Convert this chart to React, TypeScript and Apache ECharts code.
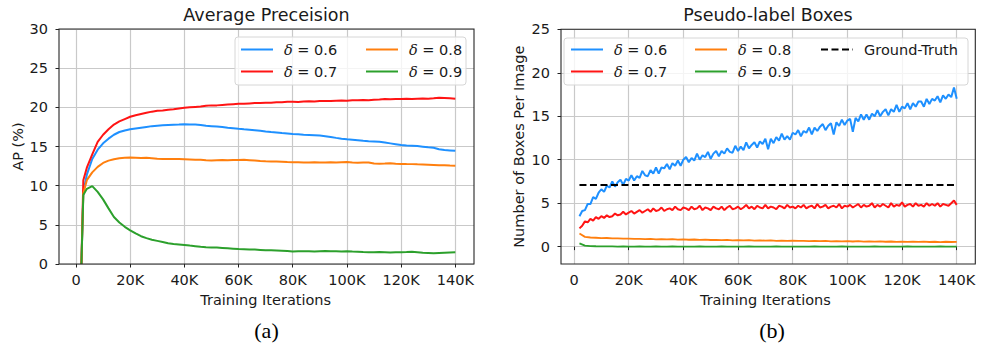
import React, { useEffect, useRef } from 'react';
import * as echarts from 'echarts';

// ---------- Left panel: Average Precision (AP %) ----------
const apItersK = [2, 2.7, 4, 6, 8, 10, 12, 14, 16, 18, 20, 22, 24, 26, 28, 30, 32, 34, 36, 38, 40, 42, 44, 46, 48, 50, 52, 54, 56, 58, 60, 62, 64, 66, 68, 70, 72, 74, 76, 78, 80, 82, 84, 86, 88, 90, 92, 94, 96, 98, 100, 102, 104, 106, 108, 110, 112, 114, 116, 118, 120, 122, 124, 126, 128, 130, 132, 134, 136, 138, 140];

const apD06 = [0, 9.2,
  11.4, 13.4, 14.6, 15.4, 16.0, 16.5, 16.85, 17.05, 17.2,
  17.3, 17.4, 17.5, 17.6, 17.65, 17.7, 17.75, 17.78, 17.8, 17.85,
  17.82, 17.8, 17.75, 17.65, 17.6, 17.55, 17.48, 17.4, 17.33, 17.26,
  17.2, 17.15, 17.08, 17.0, 16.92, 16.85, 16.8, 16.72, 16.66, 16.6,
  16.55, 16.5, 16.48, 16.45, 16.4, 16.32, 16.22, 16.1, 16.0, 15.92,
  15.86, 15.8, 15.72, 15.68, 15.65, 15.6, 15.5, 15.4, 15.3, 15.2,
  15.12, 15.1, 15.05, 14.98, 14.9, 14.85, 14.65, 14.55, 14.5, 14.45];

const apD07 = [0, 10.7,
  12.3, 14.0, 15.6, 16.5, 17.2, 17.8, 18.2, 18.5, 18.8,
  19.0, 19.15, 19.3, 19.45, 19.55, 19.6, 19.7, 19.75, 19.85, 19.95,
  20.0, 20.05, 20.1, 20.2, 20.25, 20.25, 20.3, 20.35, 20.4, 20.45,
  20.45, 20.5, 20.55, 20.55, 20.6, 20.6, 20.65, 20.65, 20.7, 20.72,
  20.68, 20.75, 20.78, 20.75, 20.8, 20.82, 20.8, 20.85, 20.88, 20.84,
  20.9, 20.92, 20.95, 20.9, 20.97, 21.0, 21.05, 21.02, 21.05, 21.05,
  21.08, 21.06, 21.1, 21.12, 21.1, 21.15, 21.22, 21.2, 21.15, 21.1];

const apD08 = [0, 9.0,
  10.7, 11.7, 12.4, 12.9, 13.2, 13.38, 13.5, 13.55, 13.58,
  13.55, 13.52, 13.55, 13.5, 13.45, 13.42, 13.42, 13.4, 13.4, 13.38,
  13.35, 13.32, 13.3, 13.25, 13.22, 13.25, 13.27, 13.25, 13.28, 13.28,
  13.3, 13.25, 13.2, 13.15, 13.12, 13.1, 13.08, 13.05, 13.02, 13.0,
  12.98, 12.95, 12.97, 12.98, 12.95, 12.97, 12.98, 12.95, 13.0, 13.02,
  12.95, 12.92, 12.95, 12.97, 12.82, 12.8, 12.82, 12.85, 12.8, 12.78,
  12.76, 12.75, 12.72, 12.7, 12.68, 12.65, 12.62, 12.6, 12.56, 12.53];

const apD09 = [0, 8.8,
  9.6, 9.95, 9.2, 8.25, 7.1, 6.0, 5.3, 4.75, 4.3,
  3.9, 3.55, 3.3, 3.1, 2.95, 2.8, 2.65, 2.55, 2.5, 2.43,
  2.35, 2.28, 2.2, 2.15, 2.12, 2.1, 2.05, 2.0, 1.95, 1.9,
  1.88, 1.86, 1.84, 1.8, 1.75, 1.74, 1.72, 1.7, 1.65, 1.6,
  1.62, 1.64, 1.62, 1.6, 1.63, 1.65, 1.63, 1.62, 1.6, 1.62,
  1.58, 1.55, 1.52, 1.5, 1.5, 1.52, 1.5, 1.48, 1.5, 1.5,
  1.52, 1.55, 1.5, 1.45, 1.42, 1.38, 1.42, 1.45, 1.48, 1.5];

// ---------- Right panel: Pseudo-label boxes per image ----------
// blue / red sampled every 1K iterations from 2K to 140K
const boxD06 = [
  3.5, 4.1, 4.2, 4.9, 4.9, 5.7, 5.5, 6.2, 6.6, 6.3,
  7.0, 6.8, 7.5, 6.9, 7.4, 7.7, 7.1, 7.8, 7.6, 8.2,
  7.6, 8.1, 7.9, 8.7, 8.2, 8.1, 8.8, 8.4, 9.1, 8.4,
  9.1, 9.0, 9.5, 8.9, 9.6, 9.3, 9.9, 9.3, 10.0, 10.3,
  9.7, 10.2, 9.9, 10.7, 10.0, 10.5, 10.3, 10.9, 10.1, 10.7,
  11.0, 10.4, 11.0, 10.7, 11.3, 10.9, 10.8, 11.6, 11.0, 11.5,
  11.1, 12.0, 11.3, 11.7, 12.0, 11.4, 12.1, 11.8, 12.4, 11.2,
  12.4, 11.9, 12.6, 12.2, 13.0, 12.3, 12.7, 12.3, 13.1, 12.9,
  13.4, 12.7, 13.3, 13.1, 13.7, 12.9, 13.7, 13.3, 13.8, 14.1,
  13.4, 13.9, 14.2, 12.9, 14.3, 13.9, 14.6, 14.0, 14.5, 14.7,
  13.2, 14.8, 14.4, 15.2, 14.6, 15.2, 14.6, 15.3, 15.0, 15.7,
  15.0, 15.5, 15.8, 15.1, 15.8, 15.5, 16.3, 15.5, 16.1, 15.9,
  16.5, 15.8, 16.5, 16.1, 16.7, 16.7, 16.1, 17.0, 16.4, 17.0,
  16.8, 17.3, 16.6, 17.4, 17.0, 17.5, 17.2, 18.3, 17.0];

const boxD07 = [
  2.1, 2.4, 2.9, 2.8, 3.2, 3.0, 3.4, 3.2, 3.5, 3.3,
  3.6, 3.4, 3.5, 3.8, 3.6, 3.7, 4.0, 3.7, 3.9, 4.1,
  3.8, 4.0, 4.2, 3.9, 4.1, 4.3, 4.0, 4.4, 4.1, 4.2,
  4.5, 4.1, 4.3, 4.4, 4.2, 4.6, 4.3, 4.2, 4.5, 4.4,
  4.2, 4.6, 4.3, 4.4, 4.7, 4.2, 4.5, 4.4, 4.2, 4.6,
  4.4, 4.3, 4.6, 4.2, 4.5, 4.7, 4.3, 4.4, 4.6, 4.3,
  4.5, 4.8, 4.4, 4.6, 4.3, 4.7, 4.5, 4.4, 4.8, 4.4,
  4.6, 4.5, 4.3, 4.7, 4.6, 4.4, 4.8, 4.5, 4.6, 4.4,
  4.7, 4.5, 4.8, 4.4, 4.6, 4.7, 4.4, 4.9, 4.5, 4.6,
  4.8, 4.4, 4.6, 4.7, 4.5, 4.9, 4.4, 4.7, 4.6, 4.8,
  4.5, 4.7, 4.9, 4.5, 4.8, 4.6, 4.7, 5.0, 4.5, 4.8,
  4.6, 4.9, 4.7, 4.5, 5.0, 4.6, 4.8, 4.7, 5.1, 4.6,
  4.8, 4.9, 4.6, 5.0, 4.7, 4.8, 4.6, 5.0, 4.7, 4.9,
  4.7, 5.0, 4.6, 4.9, 4.8, 4.7, 5.0, 5.3, 4.8];

// orange / green sampled every 2K iterations from 2K to 140K
const boxD08 = [
  1.50, 1.12, 1.05, 1.02, 0.97, 0.99, 0.94, 0.95, 0.91, 0.93,
  0.88, 0.90, 0.86, 0.89, 0.84, 0.87, 0.83, 0.85, 0.81, 0.83,
  0.79, 0.82, 0.77, 0.80, 0.76, 0.78, 0.74, 0.77, 0.72, 0.75,
  0.71, 0.74, 0.69, 0.72, 0.68, 0.71, 0.67, 0.70, 0.66, 0.68,
  0.65, 0.67, 0.63, 0.66, 0.62, 0.65, 0.61, 0.64, 0.60, 0.63,
  0.59, 0.62, 0.58, 0.61, 0.57, 0.60, 0.56, 0.59, 0.55, 0.58,
  0.55, 0.57, 0.54, 0.57, 0.53, 0.56, 0.52, 0.56, 0.53, 0.55];

const boxD09 = [
  0.38, 0.12, 0.06, 0.04, 0.03, 0.02, 0.02, 0.01, 0.02, 0.01,
  0.01, 0.02, 0.01, 0.01, 0.02, 0.01, 0.01, 0.02, 0.01, 0.01,
  0.01, 0.01, 0.02, 0.01, 0.01, 0.01, 0.02, 0.01, 0.01, 0.01,
  0.01, 0.02, 0.01, 0.01, 0.01, 0.01, 0.02, 0.01, 0.01, 0.01,
  0.01, 0.01, 0.01, 0.02, 0.01, 0.01, 0.01, 0.01, 0.02, 0.01,
  0.01, 0.01, 0.01, 0.01, 0.02, 0.01, 0.01, 0.01, 0.01, 0.01,
  0.02, 0.01, 0.01, 0.01, 0.01, 0.01, 0.02, 0.01, 0.01, 0.01];

const groundTruthIters = [2000, 140000];
const groundTruthValue = [7.1, 7.1];

const seriesNames = ['δ = 0.6', 'δ = 0.7', 'δ = 0.8', 'δ = 0.9'];
const gtName = 'Ground-Truth';
const COLORS = ['#1e90ff', '#ff1414', '#ff7f0e', '#2ca02c'];

const FONT = 'DejaVu Sans';
const TXT = '#1a1a1a';
const GRID_LINE = '#c9c9c9';

const fmtK = (v: number) => (v === 0 ? '0' : `${v / 1000}K`);

const pairs = (xs: number[], ys: number[]) => xs.map((x, i) => [x, ys[i]]);
const stepIters = (startK: number, stepK: number, n: number) =>
  Array.from({ length: n }, (_, i) => (startK + i * stepK) * 1000);

export default function App() {
  const ref = useRef<HTMLDivElement>(null);

  useEffect(() => {
    if (!ref.current) return;
    const chart = echarts.init(ref.current, undefined, { renderer: 'svg' });

    const apIters = apItersK.map((k) => k * 1000);
    const it1K = stepIters(2, 1, boxD06.length);
    const it2K = stepIters(2, 2, boxD08.length);

    const tickLabel = { fontFamily: FONT, fontSize: 14.5, color: TXT };
    const axisTick = { show: true, length: 3.5, lineStyle: { color: '#222', width: 1 } };
    const splitLine = { show: true, lineStyle: { color: GRID_LINE, width: 1.2 } };
    const nameStyle = { fontFamily: FONT, fontSize: 14.5, color: TXT };

    const hiddenX = (gi: number) => ({ gridIndex: gi, type: 'value', min: 0, max: 1, show: false });

    const iterAxis = (gi: number) => ({
      gridIndex: gi,
      type: 'value',
      min: 0,
      max: 140000,
      interval: 20000,
      axisLine: { show: false },
      axisTick,
      axisLabel: { ...tickLabel, margin: 8, formatter: fmtK },
      splitLine,
      name: 'Training Iterations',
      nameLocation: 'middle',
      nameGap: 28,
      nameTextStyle: nameStyle,
    });

    const legendItem = (name: string, left: number, top: number) => ({
      data: [name],
      left,
      top,
      padding: 0,
      itemWidth: 32,
      itemHeight: 14,
      itemGap: 0,
      selectedMode: false,
      z: 10,
      itemStyle: { opacity: 0 },
      formatter: (n: string) => '{s| }' + n.replace('δ', '{d|δ}'),
      textStyle: {
        fontFamily: FONT,
        fontSize: 14.5,
        color: TXT,
        rich: {
          s: { width: 6, fontSize: 14.5 },
          d: { fontFamily: 'DejaVu Serif', fontStyle: 'italic', fontSize: 14.5, color: TXT },
        },
      },
    });

    const line = (name: string, color: string, data: number[][], xi: number, yi: number, width: number) => ({
      type: 'line',
      name,
      data,
      xAxisIndex: xi,
      yAxisIndex: yi,
      symbol: 'none',
      showSymbol: false,
      lineStyle: { color, width },
      itemStyle: { color },
      emphasis: { disabled: true },
      z: 3,
    });

    const option: any = {
      animation: false,
      grid: [
        { left: 59, top: 29, width: 415, height: 235 },
        { left: 76, top: 29, width: 379.3, height: 235 },
        { left: 561, top: 29.3, width: 414.3, height: 217.4 },
        { left: 574, top: 29.3, width: 382.7, height: 234.7 },
      ],
      xAxis: [hiddenX(0), iterAxis(1), hiddenX(2), iterAxis(3)],
      yAxis: [
        {
          gridIndex: 0,
          type: 'value',
          min: 0,
          max: 30,
          interval: 5,
          axisLine: { show: false },
          axisTick,
          axisLabel: { ...tickLabel, margin: 11 },
          splitLine,
          name: 'AP (%)',
          nameLocation: 'middle',
          nameGap: 34,
          nameTextStyle: nameStyle,
        },
        { gridIndex: 1, type: 'value', min: 0, max: 30, show: false },
        {
          gridIndex: 2,
          type: 'value',
          min: 0,
          max: 25,
          interval: 5,
          axisLine: { show: false },
          axisTick,
          axisLabel: { ...tickLabel, margin: 11 },
          splitLine,
        },
        {
          gridIndex: 3,
          type: 'value',
          min: -2,
          max: 25,
          axisLine: { show: false },
          axisTick: { show: false },
          axisLabel: { show: false },
          splitLine: { show: false },
          name: 'Number of Boxes Per Image',
          nameLocation: 'middle',
          nameGap: 47.5,
          nameTextStyle: nameStyle,
        },
      ],
      legend: [
        legendItem(seriesNames[0], 240, 42),
        legendItem(seriesNames[1], 240, 64),
        legendItem(seriesNames[2], 365, 42),
        legendItem(seriesNames[3], 365, 64),
        legendItem(seriesNames[0], 570, 42),
        legendItem(seriesNames[1], 570, 64),
        legendItem(seriesNames[2], 694, 42),
        legendItem(seriesNames[3], 694, 64),
        legendItem(gtName, 820, 42),
      ],
      series: [
        line(seriesNames[0], COLORS[0], pairs(apIters, apD06), 1, 1, 2),
        line(seriesNames[1], COLORS[1], pairs(apIters, apD07), 1, 1, 2),
        line(seriesNames[2], COLORS[2], pairs(apIters, apD08), 1, 1, 2),
        line(seriesNames[3], COLORS[3], pairs(apIters, apD09), 1, 1, 2),
        line(seriesNames[0], COLORS[0], pairs(it1K, boxD06), 3, 3, 2),
        line(seriesNames[1], COLORS[1], pairs(it1K, boxD07), 3, 3, 2),
        line(seriesNames[2], COLORS[2], pairs(it2K, boxD08), 3, 3, 1.8),
        line(seriesNames[3], COLORS[3], pairs(it2K, boxD09), 3, 3, 1.8),
        {
          ...line(gtName, '#000000', pairs(groundTruthIters, groundTruthValue), 3, 3, 2),
          lineStyle: { color: '#000000', width: 2, type: [7, 3.5] },
        },
      ],
      graphic: [
        // plot frames (spines)
        { type: 'rect', z: 20, silent: true, shape: { x: 59, y: 29, width: 415, height: 235 }, style: { fill: 'none', stroke: '#262626', lineWidth: 1.1 } },
        { type: 'rect', z: 20, silent: true, shape: { x: 561, y: 29.3, width: 414.3, height: 234.7 }, style: { fill: 'none', stroke: '#262626', lineWidth: 1.1 } },
        // legend frames
        { type: 'rect', z: 6, silent: true, shape: { x: 235, y: 37, width: 231, height: 48, r: 3 }, style: { fill: 'rgba(255,255,255,0.8)', stroke: '#d6d6d6', lineWidth: 1 } },
        { type: 'rect', z: 6, silent: true, shape: { x: 564, y: 38, width: 404, height: 47, r: 3 }, style: { fill: 'rgba(255,255,255,0.8)', stroke: '#d6d6d6', lineWidth: 1 } },
        // titles
        { type: 'text', z: 20, x: 266.5, y: 15, style: { text: 'Average Preceision', fontFamily: FONT, fontSize: 17.5, fill: TXT, align: 'center', verticalAlign: 'middle', textAlign: 'center', textVerticalAlign: 'middle' } },
        { type: 'text', z: 20, x: 768, y: 15, style: { text: 'Pseudo-label Boxes', fontFamily: FONT, fontSize: 17.5, fill: TXT, align: 'center', verticalAlign: 'middle', textAlign: 'center', textVerticalAlign: 'middle' } },
        // sub-figure captions
        { type: 'text', z: 20, x: 266.5, y: 330, style: { text: '(a)', fontFamily: 'Liberation Serif', fontSize: 22, fill: '#000', align: 'center', verticalAlign: 'middle', textAlign: 'center', textVerticalAlign: 'middle' } },
        { type: 'text', z: 20, x: 772, y: 330, style: { text: '(b)', fontFamily: 'Liberation Serif', fontSize: 22, fill: '#000', align: 'center', verticalAlign: 'middle', textAlign: 'center', textVerticalAlign: 'middle' } },
      ],
    };

    chart.setOption(option);
    return () => chart.dispose();
  }, []);

  return (
    <div
      ref={ref}
      style={{ position: 'fixed', left: 0, top: 0, width: 987, height: 344, background: '#ffffff' }}
    />
  );
}
